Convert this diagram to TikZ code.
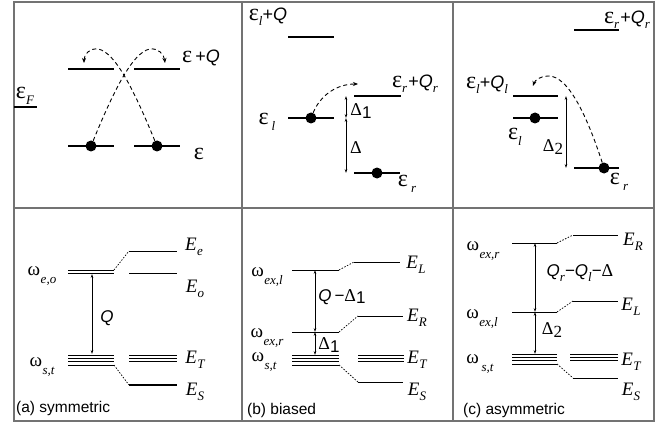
\documentclass[tikz,border=0pt]{standalone}
\usepackage{fontspec}
\setmainfont{Liberation Sans}
\newfontfamily\tms{Liberation Serif}
\usetikzlibrary{arrows.meta}
\newcommand\lsub[1]{\raisebox{-0.3em}{\fontsize{13}{13}\selectfont\tms\itshape #1}}
\newcommand\wsub[1]{\raisebox{-0.5em}{\fontsize{13}{13}\selectfont\tms\itshape #1}}
\newcommand\ee{{\fontsize{24}{24}\selectfont\tms ε}}
\newcommand\EE[1]{{\fontsize{19}{19}\selectfont\tms\itshape E}\kern0.3pt\lsub{#1}}
\newcommand\WW[1]{{\fontsize{19}{19}\selectfont\tms ω}\kern0.5pt\wsub{#1}}
\newcommand\QQ{\textit{Q}}
\newcommand\DD{{\fontsize{18}{18}\selectfont\tms Δ}}
\begin{document}
\begin{tikzpicture}[x=1pt,y=-1pt,
 frame/.style={draw=black!55,line width=1.1pt},
 lvl/.style={line width=1.3pt},
 thinl/.style={line width=0.8pt},
 hop/.style={dash pattern=on 4pt off 3pt,line width=0.9pt,-{Stealth[length=5pt,width=4pt]}},
 conn/.style={dash pattern=on 1.5pt off 1.5pt,line width=0.7pt},
 gap/.style={line width=0.8pt,{Stealth[length=4pt,width=2.6pt]}-{Stealth[length=4pt,width=2.6pt]}},
 dot/.style={circle,fill=black,inner sep=0pt,minimum size=11pt},
 lbl/.style={inner sep=0pt,font=\fontsize{17}{17}\selectfont},
 tl/.style={inner sep=0pt,font=\fontsize{18}{18}\selectfont}]
\useasboundingbox (0,0) rectangle (665,428);
% frame
\draw[frame] (14,2) rectangle (654,421);
\draw[frame] (14,208) -- (654,208);
\draw[frame] (242,2) -- (242,421);
\draw[frame] (453,2) -- (453,421);

% ===== top (a)
\draw[lvl] (14,107) -- (37,107);
\node[tl] (eF) at (25,96) {\ee\lsub{F}};
\coordinate (uL1) at (68,69);  \coordinate (uL2) at (114,69);
\coordinate (uR1) at (134,69); \coordinate (uR2) at (180,69);
\coordinate (lL1) at (68,146); \coordinate (lL2) at (114,146);
\coordinate (lR1) at (134,146);\coordinate (lR2) at (180,146);
\draw[lvl] (uL1) -- (uL2); \draw[lvl] (uR1) -- (uR2);
\draw[lvl] (lL1) -- (lL2); \draw[lvl] (lR1) -- (lR2);
\node[dot] (da1) at (91,146) {};
\node[dot] (da2) at (157,146) {};
\coordinate (ta1) at (165,63);
\coordinate (ta2) at (84,63);
\draw[hop] (da1) .. controls (112,95) and (132,52) .. (150,49) .. controls (158,48) and (164,54) .. (ta1);
\draw[hop] (da2) .. controls (136,95) and (116,52) .. (98,49) .. controls (90,48) and (84,54) .. (ta2);
\node[tl] (eQa) at (201,58) {\ee\,+\QQ};
\node[tl] (ea) at (199,154) {\ee};

% ===== top (b)
\coordinate (bq1) at (288,37); \coordinate (bq2) at (334,37);
\coordinate (bl1) at (288,118); \coordinate (bl2) at (334,118);
\coordinate (bu1) at (354,96); \coordinate (bu2) at (401,96);
\coordinate (br1) at (354,173); \coordinate (br2) at (400,173);
\draw[lvl] (bq1) -- (bq2); \draw[lvl] (bl1) -- (bl2);
\draw[lvl] (bu1) -- (bu2); \draw[lvl] (br1) -- (br2);
\node[tl] (blq) at (268,17) {\ee\lsub{l}+\QQ};
\node[tl] (brq) at (415,84) {\ee\lsub{r}\kern1pt+\QQ\lsub{r}};
\node[tl] (bel) at (267,122) {\ee\,\lsub{l}};
\node[tl] (ber) at (407,184) {\ee\,\lsub{r}};
\node[dot] (db1) at (311,118) {};
\node[dot] (db2) at (377,173) {};
\coordinate (tb) at (358,84);
\draw[hop] (db1) .. controls (320,96) and (336,84) .. (tb);
\coordinate (bx1) at (346,96); \coordinate (bx2) at (346,118); \coordinate (bx3) at (346,173);
\draw[gap] (bx1) -- (bx2);
\draw[gap] (bx2) -- (bx3);
\node[lbl] (bd1) at (361,111) {\DD\raisebox{-0.15em}{1}};
\node[lbl] (bd) at (356,148) {\DD};

% ===== top (c)
\coordinate (cq1) at (574,30); \coordinate (cq2) at (619,30);
\coordinate (cu1) at (513,96); \coordinate (cu2) at (558,96);
\coordinate (cl1) at (513,118); \coordinate (cl2) at (558,118);
\coordinate (cr1) at (574,168); \coordinate (cr2) at (619,168);
\draw[lvl] (cq1) -- (cq2); \draw[lvl] (cu1) -- (cu2);
\draw[lvl] (cl1) -- (cl2); \draw[lvl] (cr1) -- (cr2);
\node[tl] (crq) at (627,20) {\ee\lsub{r}\kern1pt+\QQ\lsub{r}};
\node[tl] (clq) at (487,85) {\ee\lsub{l}+\QQ\lsub{l}};
\node[tl] (cel) at (515,137) {\ee\lsub{l}};
\node[tl] (cer) at (619,182) {\ee\,\lsub{r}};
\node[dot] (dc1) at (535,118) {};
\node[dot] (dc2) at (604,168) {};
\coordinate (tc) at (533,86);
\draw[hop] (dc2) .. controls (590,125) and (570,75) .. (548,76) .. controls (541,76) and (535,80) .. (tc);
\coordinate (cx1) at (566,96); \coordinate (cx2) at (566,168);
\draw[gap] (cx1) -- (cx2);
\node[lbl] (cd2) at (553,147) {\DD\raisebox{-0.15em}{\tms 2}};

% ===== bottom (a)
\coordinate (ae1) at (129,251); \coordinate (ae2) at (177,251);
\coordinate (ao1) at (129,273); \coordinate (ao2) at (177,273);
\coordinate (aw1) at (68,270); \coordinate (aw2) at (114,270);
\draw[thinl] (ae1) -- (ae2);
\draw[thinl] (ao1) -- (ao2);
\draw[thinl] (aw1) -- (aw2);
\draw[thinl] (68,273) -- (114,273);
\draw[conn] (aw2) -- (ae1);
\foreach \y in {355,358.3,361.7,365} \draw[thinl] (68,\y) -- (114,\y);
\foreach \y in {355,358.3,361.7} \draw[thinl] (129,\y) -- (177,\y);
\coordinate (as0) at (114,365);
\coordinate (as1) at (129,385); \coordinate (as2) at (177,385);
\draw[conn] (as0) -- (as1);
\draw[line width=1.5pt] (as1) -- (as2);
\coordinate (aq1) at (92,274); \coordinate (aq2) at (92,354);
\draw[gap] (aq1) -- (aq2);
\node[lbl] (aQ) at (107,318) {\QQ};
\node[lbl] (aEe) at (194,247) {\EE{e}};
\node[lbl] (aEo) at (195,289) {\EE{o}};
\node[lbl] (aET) at (195,360) {\EE{T}};
\node[lbl] (aES) at (195,392) {\EE{S}};
\node[lbl] (awe) at (42,276) {\WW{e,o}};
\node[lbl] (aws) at (42,367) {\WW{s,t}};
\node[lbl,anchor=west,font=\fontsize{15.5}{15.5}\selectfont] (acap) at (16,408) {(a) symmetric};

% ===== bottom (b)
\coordinate (bEL1) at (354,262); \coordinate (bEL2) at (400,262);
\coordinate (bwl1) at (292,270); \coordinate (bwl2) at (339,270);
\coordinate (bER1) at (358,316); \coordinate (bER2) at (403,316);
\coordinate (bwr1) at (292,332); \coordinate (bwr2) at (339,332);
\draw[thinl] (bEL1) -- (bEL2); \draw[thinl] (bwl1) -- (bwl2);
\draw[thinl] (bER1) -- (bER2); \draw[thinl] (bwr1) -- (bwr2);
\draw[conn] (bwl2) -- (bEL1);
\draw[conn] (bwr2) -- (bER1);
\foreach \y in {355,358.3,361.7,365} \draw[thinl] (292,\y) -- (339,\y);
\foreach \y in {355,358.3,361.7} \draw[thinl] (358,\y) -- (404,\y);
\coordinate (bs0) at (339,365);
\coordinate (bES1) at (358,382); \coordinate (bES2) at (403,382);
\draw[conn] (bs0) -- (bES1);
\draw[thinl] (bES1) -- (bES2);
\coordinate (bg1) at (315,270); \coordinate (bg2) at (315,332); \coordinate (bg3) at (315,355);
\draw[gap] (bg1) -- (bg2);
\draw[gap] (bg2) -- (bg3);
\node[lbl] (bQD) at (342,297) {\QQ\,−\DD\raisebox{-0.15em}{1}};
\node[lbl] (bD1) at (329,345) {\DD\raisebox{-0.15em}{1}};
\node[lbl] (bEL) at (416,265) {\EE{L}};
\node[lbl] (bER) at (417,318) {\EE{R}};
\node[lbl] (bET) at (417,360) {\EE{T}};
\node[lbl] (bES) at (417,392) {\EE{S}};
\node[lbl] (bwlL) at (267,277) {\WW{ex,l}};
\node[lbl] (bwrL) at (267,338) {\WW{ex,r}};
\node[lbl] (bwsL) at (264,362) {\WW{s,t}};
\node[lbl,anchor=west,font=\fontsize{15.5}{15.5}\selectfont] (bcap) at (247,410) {(b) biased};

% ===== bottom (c)
\coordinate (cER1) at (573,235); \coordinate (cER2) at (618,235);
\coordinate (cwr1) at (512,243); \coordinate (cwr2) at (557,243);
\coordinate (cEL1) at (573,301); \coordinate (cEL2) at (618,301);
\coordinate (cwl1) at (512,312); \coordinate (cwl2) at (557,312);
\draw[thinl] (cER1) -- (cER2); \draw[thinl] (cwr1) -- (cwr2);
\draw[thinl] (cEL1) -- (cEL2); \draw[thinl] (cwl1) -- (cwl2);
\draw[conn] (cwr2) -- (cER1);
\draw[conn] (cwl2) -- (cEL1);
\foreach \y in {354,357.3,360.7,364} \draw[thinl] (512,\y) -- (557,\y);
\foreach \y in {354,357.3,360.7} \draw[thinl] (570,\y) -- (618,\y);
\coordinate (cs0) at (557,364);
\coordinate (cES1) at (573,378); \coordinate (cES2) at (618,378);
\draw[conn] (cs0) -- (cES1);
\draw[thinl] (cES1) -- (cES2);
\coordinate (cg1) at (535,243); \coordinate (cg2) at (535,312); \coordinate (cg3) at (535,354);
\draw[gap] (cg1) -- (cg2);
\draw[gap] (cg2) -- (cg3);
\node[lbl] (cQQ) at (580,273) {\QQ\lsub{r}−\QQ\lsub{l}−\DD};
\node[lbl] (cD2) at (552,330) {\DD\raisebox{-0.15em}{\tms 2}};
\node[lbl] (cER) at (633,242) {\EE{R}};
\node[lbl] (cEL) at (631,307) {\EE{L}};
\node[lbl] (cET) at (631,362) {\EE{T}};
\node[lbl] (cES) at (631,392) {\EE{S}};
\node[lbl] (cwrL) at (483,251) {\WW{ex,r}};
\node[lbl] (cwlL) at (482,319) {\WW{ex,l}};
\node[lbl] (cwsL) at (480,364) {\WW{\,s,t}};
\node[lbl,anchor=west,font=\fontsize{15.5}{15.5}\selectfont] (ccap) at (463,410) {(c) asymmetric};
\end{tikzpicture}
\end{document}
